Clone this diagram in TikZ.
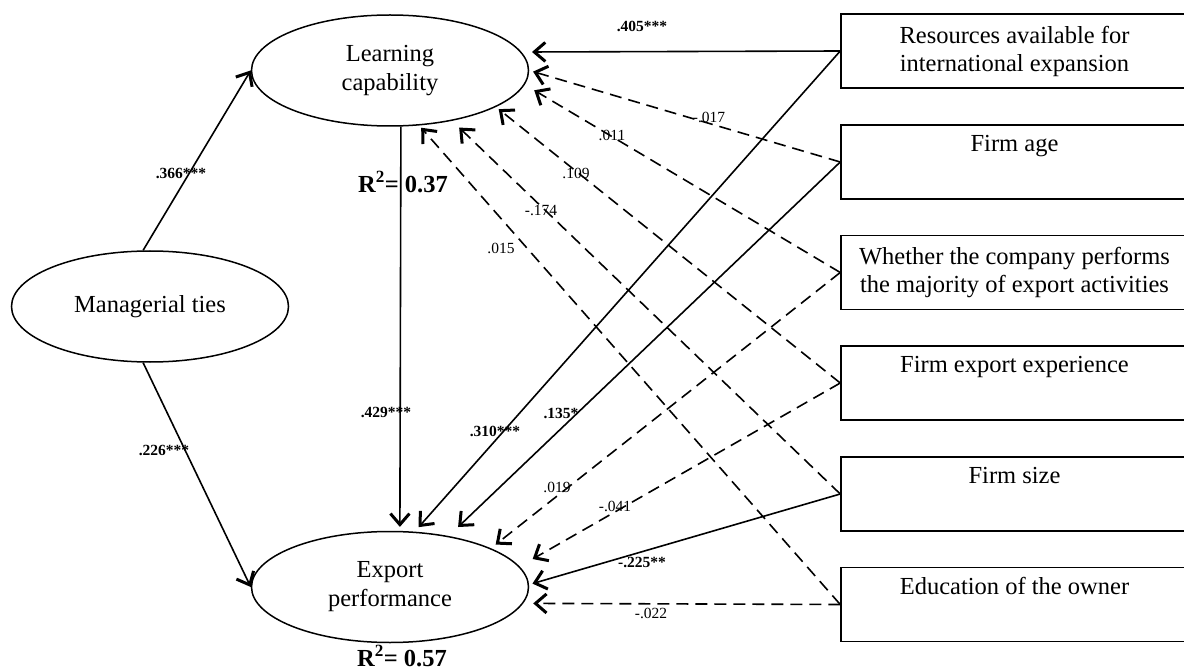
\documentclass[tikz,border=0pt]{standalone}
\usepackage{fontspec}
\setmainfont{Liberation Serif}
\usetikzlibrary{arrows.meta,shapes.geometric}
\begin{document}
\begin{tikzpicture}[x=1pt,y=-1pt,
  latent/.style={ellipse, draw, line width=1.5pt, minimum width=277pt,
    minimum height=111pt, inner sep=0pt, align=center,
    font=\fontsize{24.5}{29}\selectfont},
  obs/.style={rectangle, draw, line width=1.5pt, minimum width=347pt,
    minimum height=74pt, inner sep=0pt, align=center,
    font=\fontsize{24.5}{28}\selectfont},
  effect/.style={line width=1.6pt,
    -{Straight Barb[length=11pt,width=19pt,line width=3pt]}},
  ctrleffect/.style={effect, dash pattern=on 12pt off 7pt},
  coef/.style={inner sep=0pt, font=\fontsize{15.5}{18}\selectfont},
  coefb/.style={inner sep=0pt, font=\fontsize{15.5}{18}\selectfont\bfseries},
  rsq/.style={inner sep=0pt, font=\fontsize{24.5}{29}\selectfont\bfseries}]
\useasboundingbox (0,0) rectangle (1184,671);
\clip (0,0) rectangle (1184,671);

% latent constructs
\node[latent] (lc) at (390,70.5) {Learning\\capability};
\node[latent] (ep) at (390,587) {Export\\performance};
\node[latent] (mt) at (150,306.5) {Managerial ties};

% control variables
\node[obs] (b1) at (1014.5,51)    {Resources available for\\international expansion};
\node[obs] (b2) at (1014.5,162)   {Firm age\\\strut};
\node[obs] (b3) at (1014.5,272.5) {Whether the company performs\\the majority of export activities};
\node[obs] (b4) at (1014.5,383)   {Firm export experience\\\strut};
\node[obs] (b5) at (1014.5,494)   {Firm size\\\strut};
\node[obs] (b6) at (1014.5,604.5) {Education of the owner\\\strut};

% hypothesised paths
\draw[effect] (mt.97) -- (lc.west);
\draw[effect] (mt.-97) -- (ep.west);
\draw[effect, shorten >=4pt] (lc.-79.8) -- (ep.80);

% controls -> learning capability
\draw[effect, shorten >=10.5pt]   (b1.west) -- (lc.8.6);
\draw[ctrleffect, shorten >=4pt]  (b2.west) -- (lc.0);
\draw[ctrleffect, shorten >=11pt] (b3.west) -- (lc.-6.9);
\draw[ctrleffect, shorten >=3.5pt](b4.west) -- (lc.-19.2);
\draw[ctrleffect, shorten >=9.7pt](b5.west) -- (lc.-39.2);
\draw[ctrleffect, shorten >=3pt]  (b6.west) -- (lc.-62.6);

% controls -> export performance
\draw[effect, shorten >=6pt]      (b1.west) -- (ep.66.5);
\draw[effect, shorten >=13pt]     (b2.west) -- (ep.41.8);
\draw[ctrleffect, shorten >=6pt]  (b3.west) -- (ep.21);
\draw[ctrleffect, shorten >=15pt] (b4.west) -- (ep.9.5);
\draw[effect, shorten >=3.5pt]    (b5.west) -- (ep.1.7);
\draw[ctrleffect, shorten >=10pt] (b6.west) -- (ep.-7.5);

% coefficients
\node[coefb] (c366) at (181,173) {.366***};
\node[coefb] (c226) at (164,450) {.226***};
\node[coefb] (c429) at (386,412) {.429***};
\node[coefb] (c405) at (642,26)  {.405***};
\node[coef]  (c017) at (709,117) {-.017};
\node[coef]  (c011) at (612,135) {.011};
\node[coef]  (c109) at (576,173) {.109};
\node[coef]  (c174) at (541,210) {-.174};
\node[coef]  (c015) at (501,248) {.015};
\node[coefb] (c310) at (495,431) {.310***};
\node[coefb] (c135) at (561,413) {.135*};
\node[coef]  (c019) at (557,487) {.019};
\node[coef]  (c041) at (615,506) {-.041};
\node[coefb] (c225) at (642,562) {-.225**};
\node[coef]  (c022) at (651,613) {-.022};

% explained variance
\node[rsq] (r1) at (403,182) {R\textsuperscript{2}= 0.37};
\node[rsq] (r2) at (402,656) {R\textsuperscript{2}= 0.57};
\end{tikzpicture}
\end{document}
